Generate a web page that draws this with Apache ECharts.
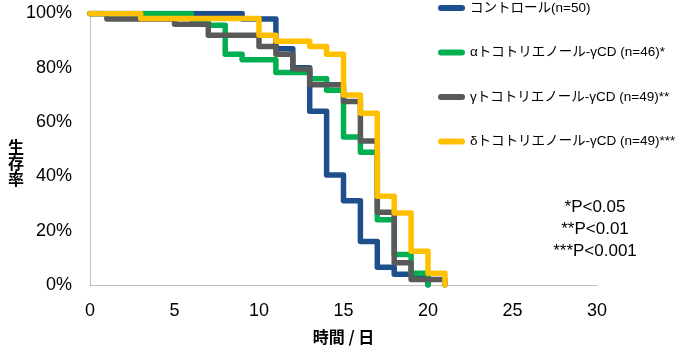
<!DOCTYPE html>
<html>
<head>
<meta charset="utf-8">
<script src="https://cdn.jsdelivr.net/npm/echarts@6/dist/echarts.min.js"></script>
<style>
  html, body { margin: 0; padding: 0; background: #fff; }
  #chart { width: 677px; height: 350px; }
</style>
</head>
<body>
<div id="chart"></div>
<script>
// Kaplan–Meier style survival: each value holds from its day until the next change.
const groupNames = [
  'コントロール(n=50)',
  'αトコトリエノール-γCD (n=46)*',
  'γトコトリエノール-γCD (n=49)**',
  'δトコトリエノール-γCD (n=49)***'
];
const groupColors = ['#1F4E8C', '#00B050', '#595959', '#FFC000'];

const controlDays     = [0, 9, 11, 12, 13, 14, 15, 16, 17, 18, 20];
const controlSurvival = [100, 98, 87, 80, 64, 40.5, 31, 16, 6.5, 4, 0];

const alphaDays     = [0, 6, 7, 8, 9, 11, 13, 14, 15, 16, 17, 18, 19, 20];
const alphaSurvival = [100, 97.8, 95.7, 85, 83, 78.3, 76, 71.7, 54.5, 48.9, 24, 11.2, 4.3, 0];

const gammaDays     = [0, 1, 5, 7, 10, 11, 12, 13, 15, 16, 17, 18, 19, 21];
const gammaSurvival = [100, 98, 96, 92, 87.8, 85, 79.6, 73.8, 67.6, 53, 26.8, 8.2, 2, 0];

const deltaDays     = [0, 3, 10, 11, 13, 14, 15, 16, 17, 18, 19, 20, 21];
const deltaSurvival = [100, 98.2, 92, 89.8, 87.8, 85, 70, 63.3, 32.7, 26.5, 12.4, 4.3, 0];

const xTicks = { min: 0, max: 30, interval: 5 };
const yTicks = { min: 0, max: 100, interval: 20 };
const pNotes = ['*P<0.05', '**P<0.01', '***P<0.001'];

const groups = [
  [controlDays, controlSurvival],
  [alphaDays, alphaSurvival],
  [gammaDays, gammaSurvival],
  [deltaDays, deltaSurvival]
];

const latinJp = 'Liberation Sans, Noto Sans CJK JP, sans-serif';

const chart = echarts.init(document.getElementById('chart'), null, { renderer: 'canvas' });

chart.setOption({
  animation: false,
  backgroundColor: '#ffffff',
  grid: { left: 90, right: 80, top: 13.5, bottom: 64 },
  legend: {
    orient: 'vertical',
    left: 438,
    top: 0,
    padding: 0,
    itemWidth: 27,
    itemHeight: 6,
    itemGap: 28.5,
    icon: 'path://M3,0L24,0A3,3,0,0,1,24,6L3,6A3,3,0,0,1,3,0Z',
    textStyle: { fontFamily: latinJp, fontSize: 13.5, lineHeight: 16, color: '#000' },
    data: groupNames
  },
  xAxis: {
    type: 'value',
    min: xTicks.min, max: xTicks.max, interval: xTicks.interval,
    name: '時間 / 日',
    nameLocation: 'middle',
    nameGap: 44,
    nameTextStyle: {
      fontFamily: 'Noto Sans CJK JP', fontSize: 16, fontWeight: 'bold',
      color: '#000', verticalAlign: 'top'
    },
    axisLine: { lineStyle: { color: '#BFBFBF', width: 1 } },
    axisTick: { show: false },
    splitLine: { show: false },
    axisLabel: { fontFamily: 'Liberation Sans', fontSize: 18, color: '#000', margin: 17 }
  },
  yAxis: {
    type: 'value',
    min: yTicks.min, max: yTicks.max, interval: yTicks.interval,
    axisLine: { show: true, lineStyle: { color: '#BFBFBF', width: 1 } },
    axisTick: { show: false },
    splitLine: { show: false },
    axisLabel: {
      fontFamily: 'Liberation Sans', fontSize: 18, color: '#000', margin: 18,
      formatter: '{value}%'
    }
  },
  graphic: [
    {
      type: 'text', left: 8, top: 139,
      style: {
        text: '生\n存\n率', font: 'bold 16px "Noto Sans CJK JP"', fill: '#000',
        lineHeight: 16
      }
    },
    ...pNotes.map((t, i) => ({
      type: 'text', x: 595, y: 207 + i * 22,
      style: {
        text: t, font: '17px "Liberation Sans"', fill: '#000',
        align: 'center', verticalAlign: 'middle'
      }
    }))
  ],
  series: groups.map(([days, surv], i) => ({
    name: groupNames[i],
    type: 'line',
    step: 'end',
    showSymbol: false,
    color: groupColors[i],
    lineStyle: { width: 5.5, color: groupColors[i], cap: 'round', join: 'round' },
    data: days.map((d, k) => [d, surv[k]])
  }))
});
</script>
</body>
</html>
